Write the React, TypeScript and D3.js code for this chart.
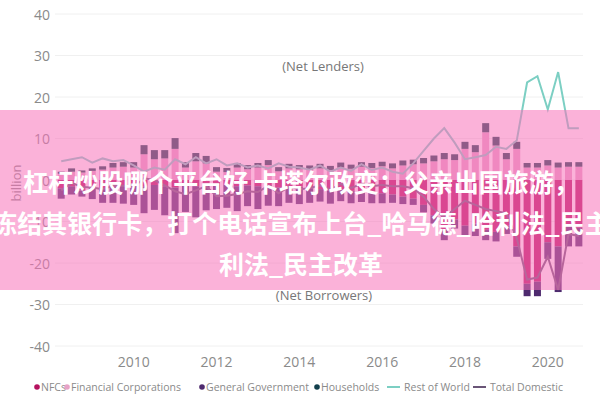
import React from "react";
import * as d3 from "d3";

const quarters: string[] = [
  "2008Q2","2008Q3","2008Q4","2009Q1","2009Q2","2009Q3","2009Q4",
  "2010Q1","2010Q2","2010Q3","2010Q4","2011Q1","2011Q2","2011Q3","2011Q4",
  "2012Q1","2012Q2","2012Q3","2012Q4","2013Q1","2013Q2","2013Q3","2013Q4",
  "2014Q1","2014Q2","2014Q3","2014Q4","2015Q1","2015Q2","2015Q3","2015Q4",
  "2016Q1","2016Q2","2016Q3","2016Q4","2017Q1","2017Q2","2017Q3","2017Q4",
  "2018Q1","2018Q2","2018Q3","2018Q4","2019Q1","2019Q2","2019Q3","2019Q4",
  "2020Q1","2020Q2","2020Q3","2020Q4",
];

const nfcs: number[] = [
  -2.0,-1.5,-2.5,-1.8,-2.0,-1.5,-1.2,
  -1.0,-1.5,-1.2,-1.5,-1.8,-1.2,-1.5,-1.3,
  -1.0,-1.2,-1.5,-1.3,-1.5,-1.2,-1.8,-1.5,
  -1.6,-2.0,-2.2,-2.5,-2.3,-2.6,-2.8,-3.0,
  -3.2,-3.5,-4.0,-4.5,-6.0,-8.5,-12.0,-9.5,
  -11.0,-10.5,-12.0,-12.5,-11.0,-16.0,-25.0,-24.5,
  -15.0,-16.0,-11.0,-11.5,
];
const financialCorps: number[] = [
  1.5,2.0,1.8,2.2,2.5,3.0,3.2,
  3.0,6.2,5.0,5.2,7.5,3.0,4.5,4.0,
  2.0,1.9,3.0,2.6,3.0,3.6,2.1,2.8,
  2.6,2.5,2.8,2.4,3.0,2.7,3.2,2.9,
  3.3,2.8,3.5,3.8,4.0,4.5,5.0,4.8,
  7.5,6.7,11.5,8.3,5.0,7.5,3.0,3.0,
  3.5,3.0,3.2,3.2,
];
const generalGov: number[] = [
  -2.5,-2.0,-1.5,-2.8,-3.5,-4.0,-4.5,
  -5.0,-6.5,-6.0,-7.0,-11.0,-6.5,-7.5,-6.0,
  -6.0,-5.5,-6.0,-5.0,-5.5,-5.0,-4.5,-4.0,
  -4.2,-3.5,-3.0,-3.2,-2.8,-3.0,-2.5,-2.6,
  -2.4,-2.0,-1.8,-1.5,-1.8,-2.0,-2.5,-2.2,
  -2.5,-3.0,-2.5,-2.3,-2.0,-2.5,-3.0,-3.5,
  -4.0,-11.0,-5.0,-4.5,
];
const households: number[] = [
  0.5,0.8,0.5,0.6,0.8,1.1,1.1,
  1.3,2.2,2.2,2.0,2.6,1.3,2.0,1.8,
  1.1,1.0,1.1,1.0,1.1,1.2,1.0,1.1,
  1.0,1.0,1.1,1.0,1.2,1.0,1.1,1.2,
  1.1,1.2,1.2,1.1,1.3,1.4,1.5,1.4,
  1.7,1.7,2.2,2.1,1.5,1.7,1.1,1.1,
  1.3,1.2,1.1,1.1,
];
const restOfWorld: number[] = [
  4.5,5.0,5.5,4.2,5.2,4.5,4.8,
  3.5,2.0,3.0,2.5,5.0,3.8,5.5,4.0,
  5.0,3.5,4.0,3.0,3.5,2.8,4.0,3.2,
  3.0,2.5,3.5,2.0,3.0,2.2,3.8,2.4,
  3.0,2.0,1.5,4.0,7.0,10.0,12.5,9.0,
  5.0,5.5,6.0,8.0,7.5,9.5,23.5,25.0,
  17.0,26.0,12.5,12.5,
];
const totalDomestic: number[] = [
  -2.5,-0.7,-1.7,-1.8,-2.2,-1.4,-1.4,
  -1.7,0.4,0.0,-1.3,-2.7,-3.4,-2.5,-1.5,
  -3.9,-3.8,-3.4,-2.7,-2.9,-1.4,-3.2,-1.6,
  -2.2,-2.0,-1.3,-2.3,-0.9,-1.9,-1.0,-1.5,
  -1.2,-1.5,-1.5,-2.0,-4.0,-7.0,-9.0,-7.0,
  -5.0,-6.0,-7.0,-7.5,-8.0,-14.0,-24.0,-23.5,
  -18.5,-26.5,-13.0,-13.5,
];

const yTicks: number[] = [40, 30, 20, 10, 0, -10, -20, -30, -40];
const xTicks: number[] = [2010, 2012, 2014, 2016, 2018, 2020];

const seriesKeys = ["NFCs", "Financial Corporations", "General Government", "Households"];
const seriesColors: Record<string, string> = {
  "NFCs": "#b5125f",
  "Financial Corporations": "#e7a3c7",
  "General Government": "#4e2a6e",
  "Households": "#123f4c",
};
const rowColor = "#7ccfc3";
const tdColor = "#6a5577";

const titleLines: string[] = [
  "杠杆炒股哪个平台好 卡塔尔政变：父亲出国旅游，",
  "冻结其银行卡，打个电话宣布上台_哈马德_哈利法_民主",
  "利法_民主改革",
];

function qTime(q: string): number {
  const yr = +q.slice(0, 4);
  const n = +q.slice(5);
  return yr + (n - 1) / 4;
}

export default function App() {
  const W = 600, H = 400;
  const x = d3.scaleLinear().domain([2008.1, 2020.85]).range([55, 583]);
  const y = d3.scaleLinear().domain([-40, 40]).range([346, 14]);

  const rows = quarters.map((q, i) => ({
    t: qTime(q),
    "NFCs": nfcs[i],
    "Financial Corporations": financialCorps[i],
    "General Government": generalGov[i],
    "Households": households[i],
  }));
  const stacked = d3.stack<any>().keys(seriesKeys).offset(d3.stackOffsetDiverging)(rows);
  const barW = 7;

  const lineGen = d3.line<number>()
    .x((_, i) => x(qTime(quarters[i])))
    .y((d) => y(d));

  const font = "'Open Sans', 'DejaVu Sans', sans-serif";
  const gray = "#8a8a8a";

  const legendItems = [
    { label: "NFCs", kind: "dot", color: seriesColors["NFCs"], x: 34 },
    { label: "Financial Corporations", kind: "dot", color: seriesColors["Financial Corporations"], x: 64 },
    { label: "General Government", kind: "dot", color: seriesColors["General Government"], x: 199 },
    { label: "Households", kind: "dot", color: seriesColors["Households"], x: 314 },
    { label: "Rest of World", kind: "line", color: rowColor, x: 387 },
    { label: "Total Domestic", kind: "line", color: tdColor, x: 473 },
  ];

  return (
    <svg width={W} height={H} style={{ position: "absolute", left: 0, top: 0, background: "#fff" }}>
      <rect x={0} y={0} width={W} height={H} fill="#fff" />
      {yTicks.map((t) => (
        <g key={t}>
          <line x1={55} x2={583} y1={y(t)} y2={y(t)} stroke="#f0f0f0" strokeWidth={1} />
          <text x={50} y={y(t)} textAnchor="end" dominantBaseline="central" fontSize={14} fill={gray} fontFamily={font}>{t}</text>
        </g>
      ))}
      <text transform={`translate(16,183) rotate(-90)`} textAnchor="middle" dominantBaseline="central" fontSize={13} fill={gray} fontFamily={font}>billion</text>
      {xTicks.map((t) => (
        <text key={t} x={x(t)} y={361} textAnchor="middle" dominantBaseline="central" fontSize={14} fill={gray} fontFamily={font}>{t}</text>
      ))}
      <text x={323} y={66} textAnchor="middle" dominantBaseline="central" fontSize={13} fill="#777" fontFamily={font}>(Net Lenders)</text>
      <text x={324} y={295} textAnchor="middle" dominantBaseline="central" fontSize={13} fill="#777" fontFamily={font}>(Net Borrowers)</text>

      {stacked.map((s) => (
        <g key={s.key} fill={seriesColors[s.key]}>
          {s.map((d, i) => {
            const y0 = y(d[0]), y1 = y(d[1]);
            return (
              <rect key={i} x={x(rows[i].t) - barW / 2} y={Math.min(y0, y1)} width={barW} height={Math.abs(y1 - y0)} />
            );
          })}
        </g>
      ))}
      <path d={lineGen(restOfWorld) || ""} fill="none" stroke={rowColor} strokeWidth={2} />
      <path d={lineGen(totalDomestic) || ""} fill="none" stroke={tdColor} strokeWidth={2} />

      {legendItems.map((it) => (
        <g key={it.label} fontFamily={font} fontSize={10.5} fill={gray}>
          {it.kind === "dot" ? (
            <circle cx={it.x + 3} cy={387} r={2.8} fill={it.color} />
          ) : (
            <line x1={it.x} x2={it.x + 13} y1={387} y2={387} stroke={it.color} strokeWidth={2} />
          )}
          <text x={it.kind === "dot" ? it.x + 7 : it.x + 17} y={387} dominantBaseline="central">{it.label}</text>
        </g>
      ))}

      <rect x={0} y={110} width={W} height={180} fill="rgb(248,115,186)" fillOpacity={0.55} />
      {titleLines.map((l, i) => (
        <text key={i} x={301} y={181 + i * 41} textAnchor="middle" dominantBaseline="central" fontSize={25} fontWeight="bold" fill="#fff" fontFamily="'Noto Sans CJK SC', sans-serif">{l}</text>
      ))}
    </svg>
  );
}
